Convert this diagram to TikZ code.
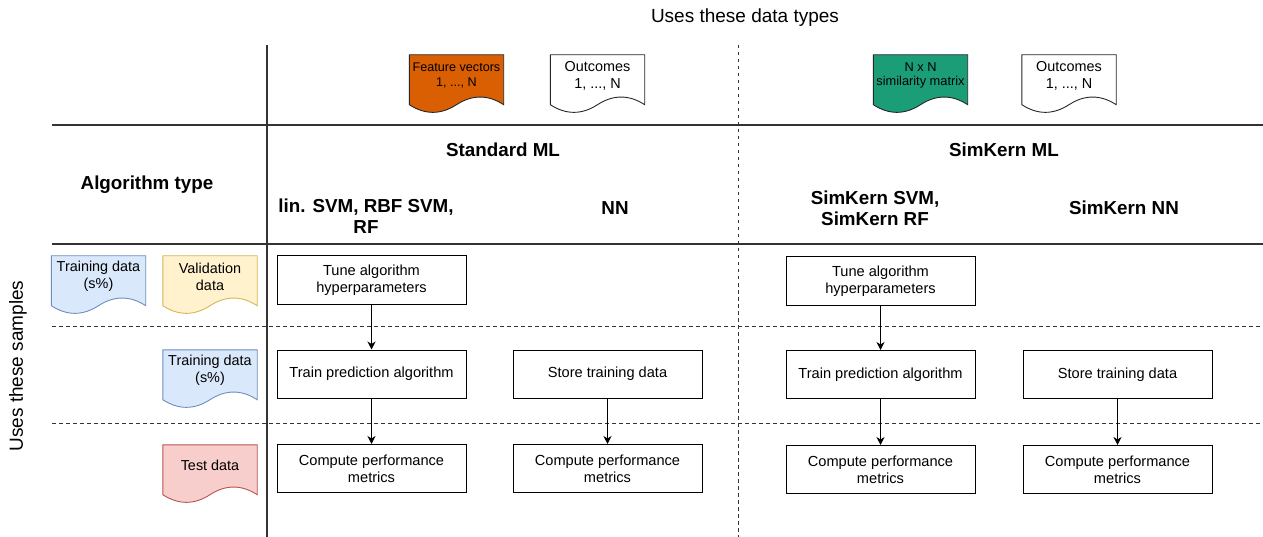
\documentclass[tikz,border=0pt]{standalone}
\usepackage{fontspec}
\setmainfont{Liberation Sans}
\usepackage{tikz}
\usetikzlibrary{arrows.meta,calc,positioning,backgrounds}

\definecolor{featorange}{HTML}{D95F02}
\definecolor{simgreen}{HTML}{1B9E77}
\definecolor{trainfill}{HTML}{DAE8FC}
\definecolor{traindraw}{HTML}{6C8EBF}
\definecolor{valfill}{HTML}{FFF2CC}
\definecolor{valdraw}{HTML}{D6B656}
\definecolor{testfill}{HTML}{F8CECC}
\definecolor{testdraw}{HTML}{B85450}

\tikzset{
  procbox/.style={draw, line width=1pt, minimum width=189pt, minimum height=48pt,
    inner sep=0pt, align=center, font=\fontsize{14.6}{17}\selectfont},
  docnode/.style={minimum width=94pt, minimum height=41pt, inner sep=0pt, align=center},
  hdr/.style={font=\bfseries\fontsize{18.8}{21}\selectfont, align=center},
  gridline/.style={line width=1.3pt, draw=black!80},
  dashline/.style={line width=0.9pt, draw=black!80, dash pattern=on 3.5pt off 3.5pt},
  flow/.style={-{Stealth[length=8pt,width=8pt,inset=2.5pt]}, line width=1pt}
}

% wavy document outline behind a docnode
\newcommand{\docwave}[2]{%
  \begin{scope}[on background layer]
  \draw[line width=0.9pt,#2] (#1.north west) -- (#1.north east) -- ([yshift=-8.5pt]#1.south east)
    .. controls ($(#1.south east)!1/6!(#1.south west)+(0pt,1.7pt)$)
    and ($(#1.south east)!1/3!(#1.south west)+(0pt,1.7pt)$) .. ([yshift=-8.5pt]#1.south)
    .. controls ($(#1.south east)!2/3!(#1.south west)+(0pt,-18.7pt)$)
    and ($(#1.south east)!5/6!(#1.south west)+(0pt,-18.7pt)$) .. ([yshift=-8.5pt]#1.south west) -- cycle;
  \end{scope}}

\begin{document}
\begin{tikzpicture}[x=1pt,y=-1pt]
  \useasboundingbox (0,0) rectangle (1263,537);

  % table lines
  \draw[gridline] (267,45) -- (267,537);
  \draw[gridline] (52,125) -- (1263,125);
  \draw[gridline] (52,244) -- (1263,244);
  \draw[dashline] (738,45) -- (738,537);
  \draw[dashline] (52,326) -- (1263,326);
  \draw[dashline] (52,423) -- (1263,423);

  % titles
  \node (usestypes) at (745,18) {\fontsize{19}{21}\selectfont Uses these data types};
  \node[rotate=90] (usessamples) at (18,366) {\fontsize{19}{21}\selectfont Uses these samples};

  % data types
  \node[docnode, font=\fontsize{12.6}{14.5}\selectfont] (featvec) at (456.5,75.5) {Feature vectors\\1, ..., N};
  \node[docnode, font=\fontsize{14.4}{17}\selectfont] (outcomesA) at (597.5,75.5) {Outcomes\\1, ..., N};
  \node[docnode, font=\fontsize{12.8}{14.5}\selectfont] (simmat) at (920.5,75.5) {N x N\\similarity matrix};
  \node[docnode, font=\fontsize{14.4}{17}\selectfont] (outcomesB) at (1069,75.5) {Outcomes\\1, ..., N};
  \docwave{featvec}{fill=featorange, draw=black!85}
  \docwave{outcomesA}{fill=white, draw=black!85}
  \docwave{simmat}{fill=simgreen, draw=black!85}
  \docwave{outcomesB}{fill=white, draw=black!85}

  % headers
  \node[hdr] (algtype) at (147,185) {Algorithm type};
  \node[hdr] (stdml) at (503,150) {Standard ML};
  \node[hdr] (simml) at (1004,150) {SimKern ML};
  \node[hdr] (linsvm) at (366,216) {lin. SVM, RBF SVM,\\RF};
  \node[hdr] (nn) at (615,208) {NN};
  \node[hdr] (simsvm) at (875,208) {SimKern SVM,\\SimKern RF};
  \node[hdr] (simnn) at (1124,208) {SimKern NN};

  % samples
  \node[docnode, font=\fontsize{14.4}{17}\selectfont] (trainA) at (98.5,276.5) {Training data\\(s\%)};
  \node[docnode, font=\fontsize{14.4}{17}\selectfont] (valid) at (210,276.5) {Validation\\data};
  \node[docnode, font=\fontsize{14.4}{17}\selectfont] (trainB) at (210,370.5) {Training data\\(s\%)};
  \node[docnode, font=\fontsize{14.4}{17}\selectfont] (testd) at (210,465.5) {Test data};
  \docwave{trainA}{fill=trainfill, draw=traindraw}
  \docwave{valid}{fill=valfill, draw=valdraw}
  \docwave{trainB}{fill=trainfill, draw=traindraw}
  \docwave{testd}{fill=testfill, draw=testdraw}

  % standard ML
  \node[procbox] (tuneA) at (371.5,280) {Tune algorithm\\hyperparameters};
  \node[procbox] (trainalgA) at (371.5,374) {Train prediction algorithm};
  \node[procbox] (storeA) at (607.5,374) {Store training data};
  \node[procbox] (compA) at (371.5,468.5) {Compute performance\\metrics};
  \node[procbox] (compB) at (607.5,468.5) {Compute performance\\metrics};

  % SimKern ML
  \node[procbox] (tuneB) at (880.5,281) {Tune algorithm\\hyperparameters};
  \node[procbox] (trainalgB) at (880.5,374.5) {Train prediction algorithm};
  \node[procbox] (storeB) at (1117.5,374.5) {Store training data};
  \node[procbox] (compC) at (880.5,469.5) {Compute performance\\metrics};
  \node[procbox] (compD) at (1117.5,469.5) {Compute performance\\metrics};

  \draw[flow] (tuneA) -- (trainalgA);
  \draw[flow] (trainalgA) -- (compA);
  \draw[flow] (storeA) -- (compB);
  \draw[flow] (tuneB) -- (trainalgB);
  \draw[flow] (trainalgB) -- (compC);
  \draw[flow] (storeB) -- (compD);
\end{tikzpicture}
\end{document}
